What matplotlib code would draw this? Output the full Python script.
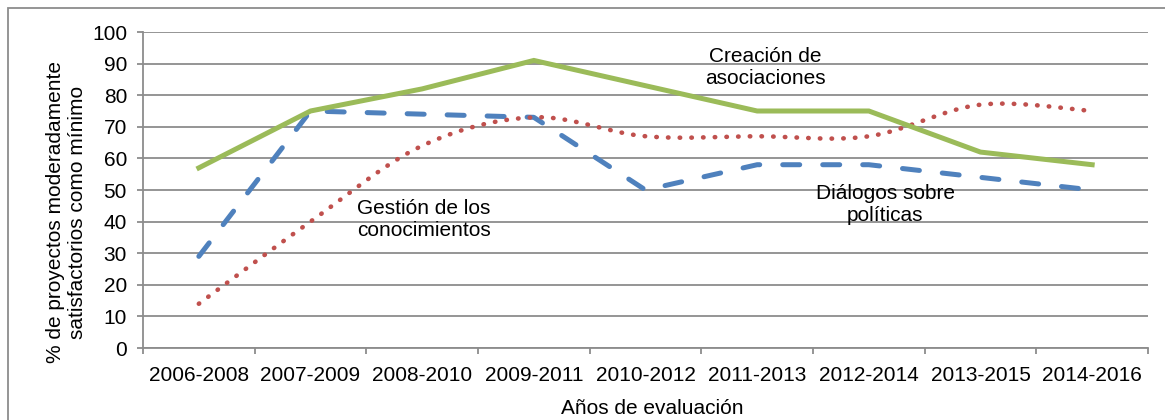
import matplotlib
matplotlib.use("Agg")
import matplotlib.pyplot as plt
import numpy as np
from matplotlib.patches import Rectangle

plt.rcParams['font.family'] = ['Liberation Sans', 'DejaVu Sans']

categories = ["2006-2008", "2007-2009", "2008-2010", "2009-2011", "2010-2012",
              "2011-2013", "2012-2014", "2013-2015", "2014-2016"]
creacion = [57, 75, 82, 91, 83, 75, 75, 62, 58]
dialogos = [29, 75, 74, 73, 50, 58, 58, 54, 50]
gestion = [14, 40, 64, 73, 67, 67, 67, 77, 75]
yticks = [0, 10, 20, 30, 40, 50, 60, 70, 80, 90, 100]

GREEN = "#9BBB59"
BLUE = "#4F81BD"
RED = "#C0504D"
GRID = "#8C8C8C"

W, H = 1165, 420
fig = plt.figure(figsize=(W / 100, H / 100), dpi=100)
ax = fig.add_axes([143 / W, 1 - 348 / H, (1148 - 143) / W, (348 - 32) / H])

x = np.arange(len(categories))

# smooth (Excel-like Bezier) rendering of a series through its data points
def smooth_curve(xs, ys, t=1 / 6, n=40):
    xs = np.asarray(xs, float); ys = np.asarray(ys, float)
    m = len(xs)
    outx, outy = [], []
    s = np.linspace(0, 1, n)
    for i in range(m - 1):
        i0, i3 = max(i - 1, 0), min(i + 2, m - 1)
        p0 = np.array([xs[i], ys[i]]); p3 = np.array([xs[i + 1], ys[i + 1]])
        c1 = p0 + (np.array([xs[i + 1], ys[i + 1]]) - np.array([xs[i0], ys[i0]])) * t
        c2 = p3 - (np.array([xs[i3], ys[i3]]) - np.array([xs[i], ys[i]])) * t
        b = ((1 - s) ** 3)[:, None] * p0 + (3 * (1 - s) ** 2 * s)[:, None] * c1 \
            + (3 * (1 - s) * s ** 2)[:, None] * c2 + (s ** 3)[:, None] * p3
        if i > 0:
            b = b[1:]
        outx.extend(b[:, 0]); outy.extend(b[:, 1])
    return np.array(outx), np.array(outy)

ax.plot(x, creacion, color=GREEN, lw=3.6, solid_joinstyle='miter', zorder=4)
ax.plot(x, dialogos, color=BLUE, lw=3.6, dashes=(3.4, 4.6),
        dash_capstyle='round', zorder=3)
gx, gy = smooth_curve(x, gestion)
ax.plot(gx, gy, color=RED, lw=3.3, dashes=(0.1, 2.45), dash_capstyle='round', zorder=3)

ax.set_xlim(-0.5, len(categories) - 0.5)
ax.set_ylim(0, 100)
ax.set_yticks(yticks)
ax.set_yticklabels([str(v) for v in yticks])
ax.set_xticks(x)
ax.set_xticklabels(categories)
ax.set_xticks(np.arange(-0.5, len(categories), 1.0), minor=True)

ax.grid(axis='y', color=GRID, lw=1.3, zorder=0)
ax.set_axisbelow(True)
for s in ['top', 'right']:
    ax.spines[s].set_visible(False)
for s in ['left', 'bottom']:
    ax.spines[s].set_color(GRID)
    ax.spines[s].set_linewidth(1.3)

ax.tick_params(axis='y', length=4.5, width=1.3, color=GRID, labelsize=15, pad=7)
ax.tick_params(axis='x', which='major', length=0, labelsize=15, pad=13)
ax.tick_params(axis='x', which='minor', length=4, width=1.3, color=GRID)

fs = 15
fig.text(765 / W, 1 - 68 / H, "Creación de\nasociaciones", ha='center', va='center',
         fontsize=fs, linespacing=1.2)
fig.text(357 / W, 1 - 220 / H, "Gestión de los\nconocimientos", ha='left', va='center',
         fontsize=fs, linespacing=1.2)
fig.text(885 / W, 1 - 204 / H, "Diálogos sobre\npolíticas", ha='center', va='center',
         fontsize=fs, linespacing=1.2)
fig.text(67 / W, 1 - 212 / H, "% de proyectos moderadamente\nsatisfactorios como mínimo",
         rotation=90, ha='center', va='center', fontsize=fs, linespacing=1.2,
         multialignment='center')
fig.text(652 / W, 1 - 408 / H, "Años de evaluación", ha='center', va='center', fontsize=fs)

# outer chart border
fig.patches.append(Rectangle((8 / W, -0.05), 1.1, 1 - 8 / H + 0.05, transform=fig.transFigure,
                             fill=False, edgecolor='#8C8C8C', lw=1.3))

fig.savefig("out.png", dpi=100)
